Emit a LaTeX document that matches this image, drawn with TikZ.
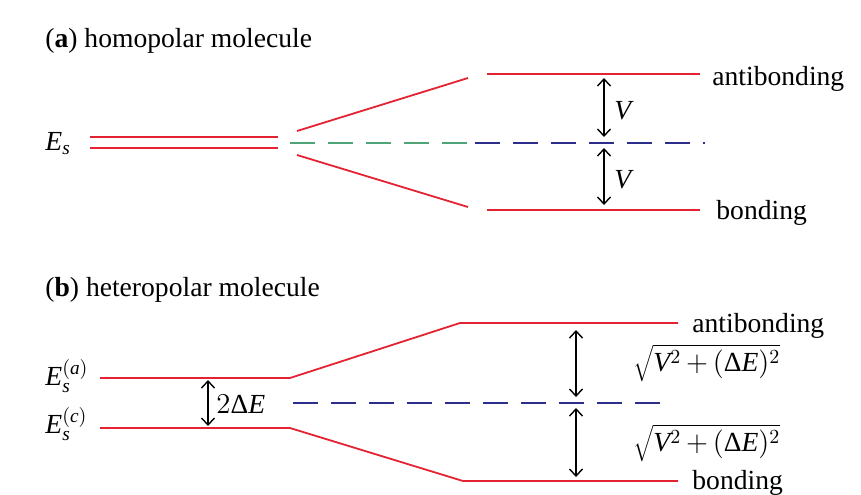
\documentclass[tikz,border=0pt]{standalone}
\usepackage{fontspec}
\setmainfont{Liberation Serif}
\usetikzlibrary{arrows.meta}
\definecolor{lvlred}{RGB}{228,35,50}
\definecolor{midblue}{RGB}{45,45,140}
\definecolor{midgreen}{RGB}{80,165,120}
\newcommand{\gapDE}{\mbox{Δ}\mathit{E}}
\begin{document}
\begin{tikzpicture}[x=0.5pt, y=-0.5pt, >={Straight Barb[length=3.5pt,width=6.5pt]},
  orbital/.style={draw=lvlred, line width=0.9pt},
  midline/.style={line width=0.8pt, dash pattern=on 12.5pt off 6.5pt},
  gaparrow/.style={<->, line width=0.7pt},
  font=\fontsize{13.8}{16}\selectfont]
\useasboundingbox (0,0) rectangle (861,494);
% (a) homopolar molecule
\node[anchor=base west, inner sep=0pt] (titleA) at (45,47) {(\textbf{a}) homopolar molecule};
\node[anchor=base west, inner sep=0pt] (esA) at (45,150) {$\mathit{E}_{\mathit{s}}$};
\coordinate (a1l) at (90,137);  \coordinate (a1r) at (278,137);
\coordinate (a2l) at (90,148);  \coordinate (a2r) at (278,148);
\coordinate (abStart) at (297,131); \coordinate (abEnd) at (468,78);
\coordinate (bStart) at (297,155);  \coordinate (bEnd) at (468,207);
\coordinate (abL) at (487,74); \coordinate (abR) at (700,74);
\coordinate (bL) at (487,210); \coordinate (bR) at (700,210);
\coordinate (midL) at (290,143); \coordinate (midM) at (475,143); \coordinate (midR) at (705,143);
\draw[orbital] (a1l) -- (a1r);
\draw[orbital] (a2l) -- (a2r);
\draw[orbital] (abStart) -- (abEnd);
\draw[orbital] (bStart) -- (bEnd);
\draw[orbital] (abL) -- (abR);
\draw[orbital] (bL) -- (bR);
\draw[midline, draw=midgreen] (midL) -- (midM);
\draw[midline, draw=midblue] (midM) -- (midR);
\node[anchor=base west, inner sep=0pt] (antiA) at (712,85) {antibonding};
\node[anchor=base west, inner sep=0pt] (bondA) at (716,219) {bonding};
\coordinate (vTop) at (604,78); \coordinate (vMidU) at (604,137);
\coordinate (vMidD) at (604,148); \coordinate (vBot) at (604,205);
\draw[gaparrow] (vTop) -- (vMidU);
\draw[gaparrow] (vMidD) -- (vBot);
\node[anchor=west, inner sep=0pt] (vUp) at (614,111) {$\mathit{V}$};
\node[anchor=west, inner sep=0pt] (vDown) at (614,180) {$\mathit{V}$};
% (b) heteropolar molecule
\node[anchor=base west, inner sep=0pt] (titleB) at (45,296) {(\textbf{b}) heteropolar molecule};
\node[anchor=base west, inner sep=0pt] (esa) at (45,385) {$\mathit{E}_{\mathit{s}}^{(\mathit{a})}$};
\node[anchor=base west, inner sep=0pt] (esc) at (45,433) {$\mathit{E}_{\mathit{s}}^{(\mathit{c})}$};
\coordinate (hAl) at (100,378); \coordinate (hAr) at (290,378);
\coordinate (hCl) at (100,428); \coordinate (hCr) at (290,428);
\coordinate (hAB) at (460,323); \coordinate (hABr) at (678,323);
\coordinate (hB) at (463,481);  \coordinate (hBr) at (678,481);
\draw[orbital] (hAl) -- (hAr) -- (hAB) -- (hABr);
\draw[orbital] (hCl) -- (hCr) -- (hB) -- (hBr);
\coordinate (hMidL) at (293,403); \coordinate (hMidR) at (670,403);
\draw[midline, draw=midblue] (hMidL) -- (hMidR);
\coordinate (dTop) at (208,380); \coordinate (dBot) at (208,426);
\draw[gaparrow] (dTop) -- (dBot);
\node[anchor=west, inner sep=0pt] (twoDE) at (216,404) {$2\gapDE$};
\node[anchor=base west, inner sep=0pt] (antiB) at (692,332) {antibonding};
\node[anchor=base west, inner sep=0pt] (bondB) at (692,489) {bonding};
\coordinate (sTop) at (576,330); \coordinate (sMidU) at (576,397);
\coordinate (sMidD) at (576,408); \coordinate (sBot) at (576,477);
\draw[gaparrow] (sTop) -- (sMidU);
\draw[gaparrow] (sMidD) -- (sBot);
\node[anchor=west, inner sep=0pt] (rootUp) at (633,363) {$\sqrt{\mathit{V}^2\,{+}\,(\gapDE)^2}$};
\node[anchor=west, inner sep=0pt] (rootDown) at (633,443) {$\sqrt{\mathit{V}^2\,{+}\,(\gapDE)^2}$};
\end{tikzpicture}
\end{document}
